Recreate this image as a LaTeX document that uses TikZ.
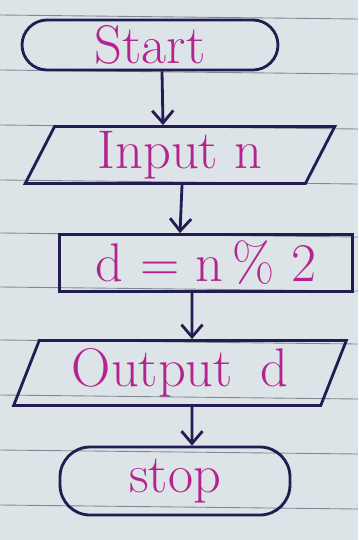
\documentclass[tikz,border=0pt]{standalone}
\usepackage{tikz}
\usetikzlibrary{arrows.meta,shapes.geometric}

\definecolor{paper}{HTML}{DCE4E8}
\definecolor{ruling}{HTML}{7E8890}
\definecolor{inkblue}{HTML}{221C52}
\definecolor{inkpink}{HTML}{B4248E}

\begin{document}
\begin{tikzpicture}[x=0.02cm,y=-0.02cm,>={Straight Barb[length=7pt,width=12pt]},
  box/.style={draw=inkblue,line width=1.6pt,text=inkpink,
    font=\fontsize{31}{37}\selectfont,inner sep=0pt},
  terminal/.style={box,rectangle,rounded corners=0.5cm},
  io/.style={box,trapezium,trapezium left angle=68,trapezium right angle=112,
    trapezium stretches=true},
  process/.style={box,rectangle},
  flow/.style={->,draw=inkblue,line width=1.6pt}]
  \fill[paper] (0,0) rectangle (358,540);
  \useasboundingbox (0,0) rectangle (358,540);
  % ruled lines of the notebook page
  \foreach \y in {15,70,125,180,233,287,340,395,450,505}
    \draw[ruling,line width=0.5pt] (0,\y) -- (358,\y+4);

  \node[terminal,minimum width=5.12cm,minimum height=1cm] (start) at (150,45) {Start};
  \node[io,minimum width=6.2cm,minimum height=1.14cm] (input) at (180,155) {Input n};
  \node[process,minimum width=5.86cm,minimum height=1.14cm] (calc) at (206,263) {d = n\,\% 2};
  \node[io,minimum width=6.66cm,minimum height=1.3cm] (output) at (180,373) {Output\enspace d};
  \node[terminal,minimum width=4.6cm,minimum height=1.36cm,rounded corners=0.6cm] (stop) at (175,481) {stop};

  \draw[flow] ([xshift=0.24cm]start.south) -- ([xshift=-0.34cm]input.north);
  \draw[flow] ([xshift=0.04cm]input.south) -- ([xshift=-0.52cm]calc.north);
  \draw[flow] ([xshift=-0.28cm]calc.south) -- ([xshift=0.24cm]output.north);
  \draw[flow] ([xshift=0.24cm]output.south) -- ([xshift=0.34cm]stop.north);
\end{tikzpicture}
\end{document}
